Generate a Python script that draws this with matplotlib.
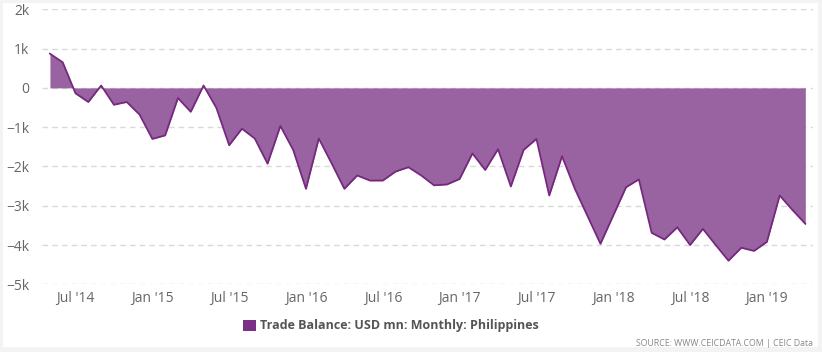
import matplotlib
matplotlib.use("Agg")
import matplotlib.pyplot as plt
import numpy as np
from matplotlib.patches import Rectangle

# Data: Trade Balance (USD mn), monthly, May 2014 - Apr 2019
months = [f"{y}-{m:02d}" for y in range(2014, 2020) for m in range(1, 13)]
months = months[4:4 + 60]
values = [870, 650, -140, -360, 60, -430, -360, -680, -1300, -1210,
          -260, -610, 60, -510, -1460, -1040, -1290, -1930, -970, -1580,
          -2570, -1290, -1920, -2570, -2230, -2360, -2360, -2130, -2020, -2230,
          -2480, -2460, -2320, -1670, -2090, -1560, -2510, -1580, -1300, -2740,
          -1740, -2570, -3270, -3970, -3250, -2530, -2330, -3690, -3860, -3550,
          -4000, -3590, -4000, -4400, -4070, -4150, -3920, -2740, -3110, -3460]
tick_labels = ["Jul '14", "Jan '15", "Jul '15", "Jan '16", "Jul '16",
               "Jan '17", "Jul '17", "Jan '18", "Jul '18", "Jan '19"]
tick_months = ["2014-07", "2015-01", "2015-07", "2016-01", "2016-07",
               "2017-01", "2017-07", "2018-01", "2018-07", "2019-01"]
y_ticks = [2000, 1000, 0, -1000, -2000, -3000, -4000, -5000]
y_labels = ["2k", "1k", "0", "\u22121k", "\u22122k", "\u22123k", "\u22124k", "\u22125k"]
legend_label = "Trade Balance: USD mn: Monthly: Philippines"
source_text = "SOURCE: WWW.CEICDATA.COM | CEIC Data"

plt.rcParams['font.family'] = ['Open Sans', 'DejaVu Sans']

W, H = 822, 352
fig = plt.figure(figsize=(W / 100, H / 100), dpi=100)
fig.patch.set_facecolor("#f3f3f3")
fig.add_artist(Rectangle((3 / W, 1 - 347 / H), 815 / W, 344 / H,
                         transform=fig.transFigure, facecolor="white",
                         edgecolor="none", zorder=0))

ax = fig.add_axes([42 / W, 1 - 284.3 / H, (813 - 42) / W, (284.3 - 9.3) / H])
ax.set_facecolor("none")
x = np.arange(len(values))
vals = np.array(values, dtype=float)
ax.fill_between(x, vals, 0, color="#9962a0", linewidth=0, zorder=2)
ax.plot(x, vals, color="#76287f", linewidth=1.3, zorder=3)

ax.set_xlim(-0.62, 59.6)
ax.set_ylim(-5000, 2000)
ax.set_yticks(y_ticks)
ax.set_yticklabels(y_labels)
xt = [months.index(m) for m in tick_months]
ax.set_xticks(xt)
ax.set_xticklabels(tick_labels)
ax.tick_params(axis="both", length=0, colors="#666666", labelsize=10)
ax.tick_params(axis="y", pad=9)
ax.tick_params(axis="x", pad=5)
for yv in y_ticks:
    ax.axhline(yv, color="#d9d9d9", linewidth=1, linestyle=(0, (4, 3)), zorder=1)
for s in ax.spines.values():
    s.set_visible(False)

# legend
fig.add_artist(Rectangle((243 / W, 1 - 331 / H), 13 / W, 11 / H,
                         transform=fig.transFigure, facecolor="#7b2f85",
                         edgecolor="none"))
fig.text(260 / W, 1 - 326 / H, legend_label, fontsize=9, fontweight="bold",
         color="#555555", va="center", ha="left")
fig.text(813 / W, 1 - 343 / H, source_text, fontsize=6.3, color="#888888",
         va="center", ha="right")

fig.savefig("out.png", dpi=100, facecolor=fig.get_facecolor())
